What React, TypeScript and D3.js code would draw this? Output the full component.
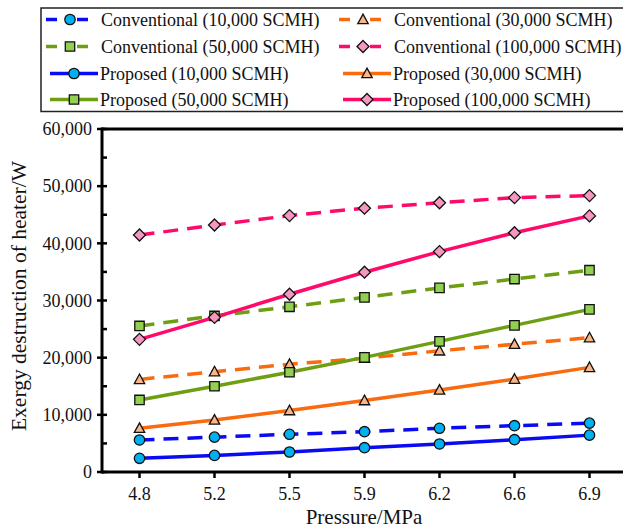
import React from "react";
import * as d3 from "d3";

// Pressure levels (MPa), plotted as evenly spaced categories
const pressures = ["4.8", "5.2", "5.5", "5.9", "6.2", "6.6", "6.9"];

// Exergy destruction of the heater (W)
const conv10k = [5600, 6100, 6600, 7050, 7650, 8100, 8550];
const conv30k = [16200, 17550, 18850, 19900, 21200, 22350, 23500];
const conv50k = [25550, 27300, 28900, 30550, 32200, 33750, 35300];
const conv100k = [41450, 43200, 44850, 46150, 47100, 48000, 48350];
const prop10k = [2400, 2900, 3500, 4250, 4900, 5650, 6450];
const prop30k = [7650, 9100, 10750, 12500, 14350, 16250, 18300];
const prop50k = [12600, 15000, 17450, 20050, 22850, 25650, 28450];
const prop100k = [23200, 27050, 31100, 34950, 38550, 41850, 44800];

const yTicks = [0, 10000, 20000, 30000, 40000, 50000, 60000];

type Shape = "circle" | "triangle" | "square" | "diamond";

interface Series {
  name: string;
  values: number[];
  line: string;
  fill: string;
  shape: Shape;
  dashed: boolean;
}

const BLUE = { line: "#0A0AF5", fill: "#00B0F0" };
const ORANGE = { line: "#FA6A0E", fill: "#F8B78A" };
const GREEN = { line: "#6E9E12", fill: "#92D050" };
const PINK = { line: "#FF0A6A", fill: "#F597C0" };

const series: Series[] = [
  { name: "Conventional (10,000 SCMH)", values: conv10k, ...BLUE, shape: "circle", dashed: true },
  { name: "Conventional (30,000 SCMH)", values: conv30k, ...ORANGE, shape: "triangle", dashed: true },
  { name: "Conventional (50,000 SCMH)", values: conv50k, ...GREEN, shape: "square", dashed: true },
  { name: "Conventional (100,000 SCMH)", values: conv100k, ...PINK, shape: "diamond", dashed: true },
  { name: "Proposed (10,000 SCMH)", values: prop10k, ...BLUE, shape: "circle", dashed: false },
  { name: "Proposed (30,000 SCMH)", values: prop30k, ...ORANGE, shape: "triangle", dashed: false },
  { name: "Proposed (50,000 SCMH)", values: prop50k, ...GREEN, shape: "square", dashed: false },
  { name: "Proposed (100,000 SCMH)", values: prop100k, ...PINK, shape: "diamond", dashed: false },
];

const W = 623;
const H = 530;
const FONT = "'Liberation Serif', 'Times New Roman', serif";

const plot = { left: 102, right: 627, top: 129, bottom: 472 };

const x = d3
  .scaleBand<string>()
  .domain(pressures)
  .range([plot.left, plot.right])
  .padding(0);

const y = d3.scaleLinear().domain([0, 60000]).range([plot.bottom, plot.top]);

const cx = (p: string) => (x(p) ?? 0) + x.bandwidth() / 2;

const symbolPath: Record<Shape, string> = {
  circle: "",
  triangle: "M0,-5.4L5.2,4.2L-5.2,4.2Z",
  square: "M-4.7,-4.7H4.7V4.7H-4.7Z",
  diamond: "M0,-6L6,0L0,6L-6,0Z",
};

function Marker({ shape, fill, px, py }: { shape: Shape; fill: string; px: number; py: number }) {
  if (shape === "circle") {
    return <circle cx={px} cy={py} r={5.2} fill={fill} stroke="#111" strokeWidth={1.3} />;
  }
  return (
    <path
      d={symbolPath[shape]}
      transform={`translate(${px},${py})`}
      fill={fill}
      stroke="#111"
      strokeWidth={1.3}
      strokeLinejoin="miter"
    />
  );
}

const LINE_W = 3.5;
const DASH = "15,9";
const LEGEND_FONT = 18;

export default function App() {
  const line = d3
    .line<number>()
    .x((_, i) => cx(pressures[i]))
    .y((v) => y(v));

  const minorTicks = d3.range(5000, 60000, 10000);

  // Legend layout: two columns, four rows (conventional rows first)
  const legendRows = [19.5, 46.5, 73.5, 99.5];
  const legendCols = [46, 339];

  return (
    <svg width={W} height={H} style={{ display: "block", position: "absolute", left: 0, top: 0 }} fontFamily={FONT}>
      <rect width={W} height={H} fill="#fff" />

      {/* Legend */}
      <rect x={41} y={8} width={600} height={103.5} fill="#fff" stroke="#222" strokeWidth={1.5} />
      {series.map((s, i) => {
        const colIdx = i % 2;
        const rowIdx = Math.floor((i % 4) / 2) + (s.dashed ? 0 : 2);
        const x0 = legendCols[colIdx];
        const ly = legendRows[rowIdx];
        if (s.dashed) {
          return (
            <g key={s.name}>
              <line x1={x0} x2={x0 + 11} y1={ly} y2={ly} stroke={s.line} strokeWidth={LINE_W} />
              <line x1={x0 + 31} x2={x0 + 42} y1={ly} y2={ly} stroke={s.line} strokeWidth={LINE_W} />
              <Marker shape={s.shape} fill={s.fill} px={x0 + 24} py={ly} />
              <text x={x0 + 55} y={ly} dy="0.35em" fontSize={LEGEND_FONT} fill="#111">
                {s.name}
              </text>
            </g>
          );
        }
        return (
          <g key={s.name}>
            <line x1={x0 + 4} x2={x0 + 52} y1={ly} y2={ly} stroke={s.line} strokeWidth={LINE_W} />
            <Marker shape={s.shape} fill={s.fill} px={x0 + 28} py={ly} />
            <text x={x0 + 54} y={ly} dy="0.35em" fontSize={LEGEND_FONT} fill="#111">
              {s.name}
            </text>
          </g>
        );
      })}

      {/* Series lines */}
      {series.map((s) => (
        <path
          key={s.name + "-line"}
          d={line(s.values) ?? ""}
          fill="none"
          stroke={s.line}
          strokeWidth={LINE_W}
          strokeDasharray={s.dashed ? DASH : undefined}
        />
      ))}
      {/* Markers */}
      {series.map((s) => (
        <g key={s.name + "-pts"}>
          {s.values.map((v, i) => (
            <Marker key={i} shape={s.shape} fill={s.fill} px={cx(pressures[i])} py={y(v)} />
          ))}
        </g>
      ))}

      {/* Plot frame */}
      <line x1={plot.left} x2={W + 5} y1={plot.top} y2={plot.top} stroke="#000" strokeWidth={3} />
      <line x1={plot.left} x2={W + 5} y1={plot.bottom} y2={plot.bottom} stroke="#000" strokeWidth={3} />
      <line x1={plot.left} x2={plot.left} y1={plot.top - 1.5} y2={plot.bottom + 1.5} stroke="#000" strokeWidth={3} />

      {/* Y axis ticks and labels */}
      {yTicks.map((t) => (
        <g key={t}>
          <line x1={plot.left - 5} x2={plot.left + 5} y1={y(t)} y2={y(t)} stroke="#000" strokeWidth={2.5} />
          <text x={92} y={y(t)} dy="0.35em" textAnchor="end" fontSize={18} fill="#111">
            {d3.format(",")(t)}
          </text>
        </g>
      ))}
      {minorTicks.map((t) => (
        <line key={t} x1={plot.left} x2={plot.left + 5} y1={y(t)} y2={y(t)} stroke="#000" strokeWidth={2.5} />
      ))}

      {/* X axis ticks and labels */}
      {pressures.map((p) => (
        <g key={p}>
          <line x1={cx(p)} x2={cx(p)} y1={plot.bottom} y2={plot.bottom + 6} stroke="#000" strokeWidth={2.5} />
          <text x={cx(p)} y={500} textAnchor="middle" fontSize={18} fill="#111">
            {p}
          </text>
        </g>
      ))}

      {/* Axis titles */}
      <text x={364} y={524} textAnchor="middle" fontSize={21} fill="#111">
        Pressure/MPa
      </text>
      <text
        transform={`translate(26,296) rotate(-90)`}
        textAnchor="middle"
        fontSize={21.5}
        fill="#111"
      >
        Exergy destruction of heater/W
      </text>
    </svg>
  );
}
